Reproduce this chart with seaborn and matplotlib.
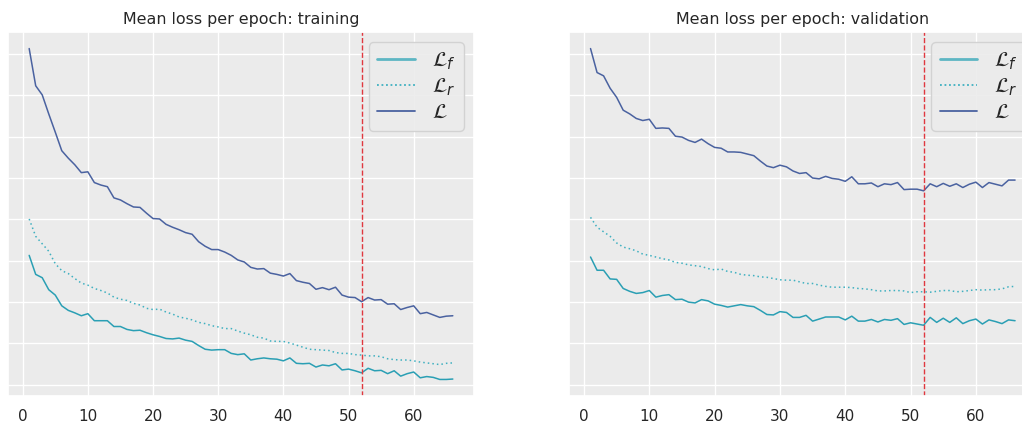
import numpy as np
import pandas as pd
import seaborn as sns
import matplotlib
matplotlib.use("Agg")
import matplotlib.pyplot as plt
from matplotlib.lines import Line2D

epochs = list(range(1, 67))
best_epoch = 52

train_Lf = [3.13, 2.67, 2.59, 2.30, 2.17, 1.91, 1.80, 1.74, 1.67, 1.72,
            1.55, 1.55, 1.55, 1.41, 1.41, 1.34, 1.31, 1.32, 1.26, 1.21,
            1.17, 1.12, 1.11, 1.13, 1.08, 1.05, 0.95, 0.86, 0.84, 0.85,
            0.85, 0.76, 0.73, 0.75, 0.60, 0.63, 0.65, 0.63, 0.62, 0.58,
            0.65, 0.52, 0.51, 0.52, 0.43, 0.48, 0.46, 0.51, 0.36, 0.38,
            0.34, 0.29, 0.40, 0.34, 0.35, 0.27, 0.34, 0.21, 0.27, 0.31,
            0.17, 0.20, 0.18, 0.13, 0.13, 0.14]
train_Lr = [4.01, 3.59, 3.41, 3.23, 2.93, 2.76, 2.69, 2.57, 2.46, 2.41,
            2.33, 2.28, 2.22, 2.12, 2.07, 2.04, 1.97, 1.93, 1.85, 1.82,
            1.83, 1.76, 1.71, 1.64, 1.61, 1.57, 1.51, 1.48, 1.43, 1.40,
            1.36, 1.36, 1.30, 1.25, 1.21, 1.15, 1.13, 1.06, 1.05, 1.05,
            1.01, 0.96, 0.91, 0.86, 0.85, 0.84, 0.83, 0.78, 0.76, 0.76,
            0.73, 0.72, 0.70, 0.70, 0.68, 0.63, 0.61, 0.60, 0.60, 0.58,
            0.55, 0.53, 0.51, 0.49, 0.52, 0.53]
train_L = [8.13, 7.23, 7.01, 6.55, 6.11, 5.66, 5.48, 5.32, 5.13, 5.15,
           4.89, 4.83, 4.79, 4.52, 4.47, 4.38, 4.30, 4.29, 4.15, 4.02,
           4.01, 3.88, 3.81, 3.75, 3.68, 3.64, 3.46, 3.35, 3.27, 3.27,
           3.21, 3.13, 3.02, 2.97, 2.84, 2.80, 2.81, 2.70, 2.67, 2.63,
           2.69, 2.52, 2.48, 2.45, 2.31, 2.35, 2.30, 2.36, 2.17, 2.12,
           2.11, 2.01, 2.11, 2.05, 2.06, 1.95, 1.96, 1.82, 1.87, 1.91,
           1.72, 1.75, 1.69, 1.63, 1.66, 1.67]

val_Lf = [3.09, 2.77, 2.77, 2.56, 2.55, 2.33, 2.26, 2.21, 2.23, 2.28,
          2.12, 2.16, 2.18, 2.06, 2.07, 2.00, 1.98, 2.06, 2.03, 1.95,
          1.92, 1.88, 1.91, 1.94, 1.91, 1.89, 1.80, 1.70, 1.69, 1.77,
          1.75, 1.63, 1.63, 1.68, 1.54, 1.59, 1.64, 1.64, 1.64, 1.57,
          1.66, 1.54, 1.54, 1.58, 1.52, 1.58, 1.56, 1.60, 1.46, 1.50,
          1.47, 1.44, 1.63, 1.51, 1.61, 1.51, 1.62, 1.48, 1.55, 1.59,
          1.47, 1.57, 1.53, 1.48, 1.57, 1.55]
val_Lr = [4.05, 3.81, 3.70, 3.59, 3.43, 3.33, 3.29, 3.24, 3.16, 3.13,
          3.09, 3.05, 3.02, 2.96, 2.94, 2.90, 2.88, 2.86, 2.81, 2.78,
          2.80, 2.74, 2.72, 2.67, 2.65, 2.64, 2.61, 2.60, 2.57, 2.54,
          2.53, 2.53, 2.49, 2.45, 2.45, 2.41, 2.38, 2.36, 2.36, 2.36,
          2.35, 2.33, 2.32, 2.30, 2.27, 2.27, 2.28, 2.28, 2.27, 2.23,
          2.25, 2.25, 2.24, 2.26, 2.28, 2.28, 2.25, 2.26, 2.28, 2.30,
          2.29, 2.30, 2.30, 2.32, 2.37, 2.38]
val_L = [8.13, 7.55, 7.47, 7.17, 6.95, 6.64, 6.55, 6.44, 6.39, 6.42,
         6.20, 6.21, 6.20, 6.01, 5.99, 5.91, 5.86, 5.94, 5.83, 5.74,
         5.72, 5.63, 5.63, 5.62, 5.58, 5.54, 5.41, 5.29, 5.25, 5.31,
         5.27, 5.17, 5.11, 5.13, 5.00, 4.98, 5.04, 4.99, 4.97, 4.92,
         5.03, 4.86, 4.86, 4.88, 4.79, 4.86, 4.84, 4.89, 4.72, 4.73,
         4.73, 4.69, 4.86, 4.79, 4.87, 4.80, 4.86, 4.77, 4.85, 4.90,
         4.77, 4.89, 4.85, 4.81, 4.95, 4.95]

titles = ["Mean loss per epoch: training", "Mean loss per epoch: validation"]
labels = [r"$\mathcal{L}_f$", r"$\mathcal{L}_r$", r"$\mathcal{L}$"]

sns.set_theme(style="darkgrid", rc={"axes.facecolor": "#ebebeb"})

c_f = "#2a9fb4"
c_r = "#3fb0c0"
c_L = "#4a62a0"

fig = plt.figure(figsize=(10.22, 4.28), dpi=100)
ax1 = fig.add_axes([8 / 1022, 32 / 428, 466 / 1022, 364 / 428])
ax2 = fig.add_axes([569.3 / 1022, 32 / 428, 467 / 1022, 364 / 428], sharey=ax1)

datasets = [(train_Lf, train_Lr, train_L), (val_Lf, val_Lr, val_L)]
for ax, (lf, lr, ll), title in zip([ax1, ax2], datasets, titles):
    df = pd.DataFrame({"epoch": epochs, "Lf": lf, "Lr": lr, "L": ll})
    sns.lineplot(data=df, x="epoch", y="Lf", ax=ax, color=c_f, lw=1.1)
    sns.lineplot(data=df, x="epoch", y="Lr", ax=ax, color=c_r, lw=1.1, linestyle=(0, (1, 2)))
    sns.lineplot(data=df, x="epoch", y="L", ax=ax, color=c_L, lw=1.1)
    ax.axvline(best_epoch, color="#e0383f", ls="--", lw=1.0)
    ax.set_title(title, fontsize=11.4)
    ax.set_xlabel("")
    ax.set_ylabel("")
    ax.set_yticks(range(0, 9))
    ax.tick_params(axis="y", labelleft=False)
    ax.set_xticks([0, 10, 20, 30, 40, 50, 60])
    ax.tick_params(axis="x", labelsize=11)
    handles = [
        Line2D([], [], color="#5db6c3", lw=2.0),
        Line2D([], [], color=c_r, lw=1.3, linestyle=(0, (1, 1.5))),
        Line2D([], [], color=c_L, lw=1.3),
    ]
    ax.legend(handles, labels, loc="upper right", fontsize=15, handlelength=1.8,
              labelspacing=0.2, borderpad=0.4, handletextpad=0.8,
              facecolor="#ebebeb", edgecolor="#d0d0d0", framealpha=0.9)

fig.savefig("out.png", dpi=100)
